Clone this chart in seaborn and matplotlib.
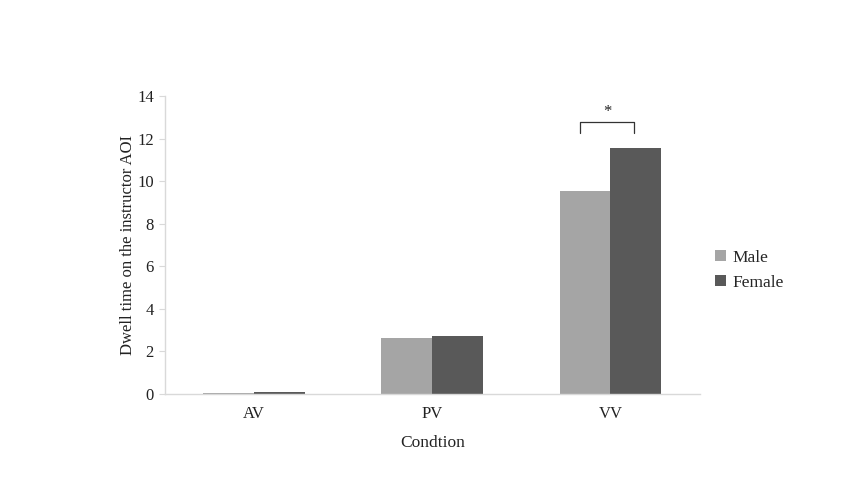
import numpy as np
import pandas as pd
import matplotlib
matplotlib.use('Agg')
import matplotlib.pyplot as plt
import seaborn as sns

# Data
conditions = ['AV', 'PV', 'VV']
male = [0.03, 2.63, 9.53]
female = [0.08, 2.72, 11.55]
genders = ['Male', 'Female']
colors = ['#a5a5a5', '#595959']

df = pd.DataFrame({
    'Condition': conditions * 2,
    'Gender': ['Male'] * 3 + ['Female'] * 3,
    'Dwell': male + female,
})

sns.set_style('white')
plt.rcParams['font.family'] = ['Liberation Serif', 'DejaVu Serif']

fig = plt.figure(figsize=(8.68, 4.88), dpi=100)
ax = fig.add_axes([0.190, 0.193, 0.616, 0.610])

sns.barplot(data=df, x='Condition', y='Dwell', hue='Gender', hue_order=genders,
            palette=colors, width=0.57, saturation=1, ax=ax, errorbar=None,
            linewidth=0)

ax.set_ylim(0, 14)
ax.set_yticks(np.arange(0, 15, 2))
ax.set_xlim(-0.5, 2.5)
ax.set_ylabel('Dwell time on the instructor AOI', fontsize=12, color='#222222',
              labelpad=1)
ax.set_xlabel('Condtion', fontsize=12.5, color='#222222', labelpad=9)
ax.tick_params(axis='y', labelsize=12, colors='#222222', length=4, width=0.8,
               color='#d9d9d9', pad=4, left=True)
ax.tick_params(axis='x', labelsize=12, colors='#222222', length=0, pad=9)

for side in ['top', 'right']:
    ax.spines[side].set_visible(False)
for side in ['left', 'bottom']:
    ax.spines[side].set_color('#d9d9d9')
    ax.spines[side].set_linewidth(1)

# significance bracket over VV
x0, x1 = 2 - 0.17, 2 + 0.13
y_top = 12.77
y_bot = 12.25
ax.plot([x0, x0, x1, x1], [y_bot, y_top, y_top, y_bot], color='#333333', lw=0.9,
        clip_on=False)
ax.text((x0 + x1) / 2, y_top + 0.1, '*', ha='center', va='bottom', fontsize=12,
        color='#222222')

ax.legend(loc='center left', bbox_to_anchor=(1.0, 0.415), frameon=False,
          fontsize=12.5, handlelength=0.6, handleheight=0.6, handletextpad=0.4,
          labelspacing=0.55)

fig.savefig('out.png', dpi=100)
